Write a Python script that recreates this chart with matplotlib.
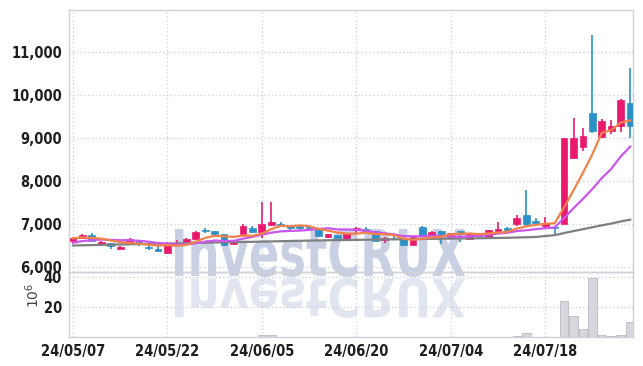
import numpy as np
import pandas as pd
import matplotlib
matplotlib.use("Agg")
import matplotlib.pyplot as plt
from matplotlib.textpath import TextPath
from matplotlib.patches import PathPatch
from matplotlib.font_manager import FontProperties
from matplotlib.transforms import Affine2D

# daily candles, 2024-05-07 .. 2024-07-31 (trading days)
opens = [6605, 6680, 6750, 6545, 6550, 6430, 6545, 6630, 6465, 6425,
         6335, 6540, 6545, 6660, 6850, 6835, 6765, 6530, 6760, 6915,
         6820, 6985, 7000, 6960, 6960, 6930, 6900, 6700, 6745, 6660,
         6855, 6885, 6835, 6620, 6675, 6645, 6515, 6930, 6720, 6835,
         6705, 6835, 6645, 6735, 6705, 6830, 6900, 7005, 7210, 7075,
         6955, 6930, 7000, 8545, 8785, 9575, 9015, 9155, 9270, 9805]
highs = [6690, 6760, 6790, 6600, 6560, 6480, 6680, 6635, 6530, 6495,
         6590, 6620, 6680, 6830, 6900, 6840, 6770, 6600, 6990, 6960,
         7520, 7520, 7040, 6975, 6985, 6960, 6910, 6770, 6750, 6800,
         6930, 6930, 6840, 6690, 6710, 6650, 6700, 6960, 6840, 6840,
         6790, 6840, 6780, 6760, 6870, 7040, 6930, 7200, 7790, 7140,
         7155, 6960, 9000, 9465, 9225, 11400, 9440, 9420, 9905, 10630]
lows = [6590, 6670, 6600, 6505, 6430, 6415, 6505, 6480, 6400, 6355,
        6330, 6520, 6500, 6630, 6800, 6700, 6500, 6510, 6740, 6780,
        6670, 6950, 6930, 6840, 6850, 6880, 6720, 6680, 6670, 6640,
        6790, 6790, 6600, 6560, 6620, 6510, 6505, 6730, 6680, 6535,
        6690, 6590, 6640, 6700, 6695, 6800, 6810, 6960, 6950, 6950,
        6905, 6760, 6990, 8510, 8690, 9115, 8990, 9095, 9130, 9000]
closes = [6670, 6750, 6615, 6575, 6480, 6470, 6645, 6545, 6450, 6380,
          6530, 6560, 6650, 6815, 6835, 6760, 6515, 6580, 6960, 6820,
          7000, 7045, 6960, 6915, 6915, 6915, 6730, 6760, 6685, 6790,
          6910, 6845, 6605, 6675, 6665, 6520, 6690, 6745, 6805, 6770,
          6785, 6760, 6775, 6725, 6860, 6875, 6860, 7145, 6995, 7015,
          7015, 6910, 8990, 8990, 9055, 9170, 9405, 9285, 9890, 9285]
volumes = [0.2, 0.2, 0.2, 0.1, 0.1, 0.1, 0.2, 0.1, 0.1, 0.1,
           0.2, 0.1, 0.1, 0.2, 0.1, 0.1, 0.2, 0.1, 0.2, 0.2,
           1.3, 1.3, 0.2, 0.1, 0.1, 0.1, 0.1, 0.1, 0.1, 0.1,
           0.1, 0.1, 0.1, 0.1, 0.1, 0.1, 0.1, 0.2, 0.1, 0.1,
           0.1, 0.1, 0.1, 0.1, 0.2, 0.3, 0.2, 0.7, 2.9, 0.3,
           0.3, 0.2, 24.2, 14.2, 5.6, 39.6, 1.6, 0.9, 1.3, 10.2]
# closes before the window, needed for the short moving averages
prior_closes = [6380, 6400, 6410, 6565, 6560, 6640, 6680, 6650, 6695]
# 60-day moving average
ma60 = [6500, 6505, 6510, 6515, 6520, 6524, 6528, 6532, 6536, 6540,
        6545, 6550, 6555, 6560, 6565, 6570, 6575, 6580, 6583, 6586,
        6590, 6595, 6600, 6605, 6610, 6614, 6618, 6622, 6625, 6628,
        6631, 6634, 6637, 6640, 6643, 6646, 6649, 6652, 6655, 6658,
        6660, 6663, 6666, 6669, 6672, 6676, 6680, 6686, 6692, 6698,
        6720, 6740, 6790, 6835, 6880, 6925, 6970, 7010, 7060, 7100]
tick_pos = [0, 10, 20, 30, 40, 50]
tick_labels = ['24/05/07', '24/05/22', '24/06/05', '24/06/20', '24/07/04', '24/07/18']

UP = '#e8196e'
DOWN = '#2b91c6'

all_close = pd.Series(prior_closes + closes)
n_prior = len(prior_closes)
ma5 = all_close.rolling(5).mean().values[n_prior:]
ma10 = all_close.rolling(10).mean().values[n_prior:]

x = np.arange(len(closes))
o = np.array(opens); c = np.array(closes)
h = np.array(highs); l = np.array(lows)
colors = np.where(c >= o, UP, DOWN)

W, H = 643, 366
fig = plt.figure(figsize=(W / 100, H / 100), dpi=100, facecolor='white')
ax = fig.add_axes([69 / W, (H - 272) / H, 564 / W, 262 / H], facecolor='none')
axv = fig.add_axes([69 / W, (H - 337) / H, 564 / W, 65 / H], facecolor='none', sharex=ax)

tick_font = FontProperties(family='DejaVu Sans', weight='bold', stretch='condensed', size=10.5)

# watermark with reflection
tp = TextPath((0, 0), 'InvestCRUX', size=50,
              prop=FontProperties(family='DejaVu Sans', weight='bold', stretch='condensed'))
ext = tp.get_extents()
x0, y0, x1, y1 = ext.x0, ext.y0, ext.x1, ext.y1
sx = 290 / (x1 - x0)
main_tr = Affine2D().translate(-x0, -y0).scale(sx, 49 / (y1 - y0)).translate(175, H - 277)
refl_tr = Affine2D().translate(-x0, -y0).scale(sx, -40 / (y1 - y0)).translate(175, H - 278)
fig.add_artist(PathPatch(tp, transform=main_tr, facecolor='#c9d0e3', edgecolor='none', zorder=-2))
fig.add_artist(PathPatch(tp, transform=refl_tr, facecolor='#e1e5ef', edgecolor='none', zorder=-2))

# candles
ax.vlines(x, l, h, colors=colors, linewidth=1.2, zorder=3)
body = np.maximum(np.abs(c - o), 12)
ax.bar(x, body, bottom=np.minimum(o, c), width=0.72, color=colors,
       edgecolor=colors, linewidth=0.5, zorder=4)

ax.plot(x, ma60, color='#7f7f7f', linewidth=1.6, zorder=5)
ax.plot(x, ma10, color='#cc55ee', linewidth=1.6, zorder=5)
ax.plot(x, ma5, color='#f0824a', linewidth=1.6, zorder=5)

axv.bar(x, volumes, width=0.9, color='#d6d6dd', edgecolor='#b9b9c2', linewidth=0.6, zorder=3)

ax.set_xlim(-0.42, 59.3)
ax.set_ylim(5884, 11977)
axv.set_ylim(0, 43.5)

yt = [6000, 7000, 8000, 9000, 10000, 11000]
ax.set_yticks(yt)
ax.set_yticklabels(['{:,}'.format(v) for v in yt])
axv.set_yticks([20, 40])
axv.set_xticks(tick_pos)
axv.set_xticklabels(tick_labels)
ax.tick_params(axis='x', labelbottom=False)

for a in (ax, axv):
    a.tick_params(length=0, labelcolor='#1e1e1e', pad=5)
    for lab in a.get_xticklabels() + a.get_yticklabels():
        lab.set_fontproperties(tick_font)
    a.grid(True, color='#c8cde0', linestyle=(0, (1, 2)), linewidth=0.9)
    a.set_axisbelow(True)
    for s in a.spines.values():
        s.set_color('#d0d0d8')
        s.set_linewidth(1.0)

fig.text(33 / W, 1 - 295 / H, r'$10^6$', rotation=90, ha='center', va='center',
         fontsize=10, color='#444444', family='DejaVu Sans')

fig.savefig('out.png', dpi=100)
